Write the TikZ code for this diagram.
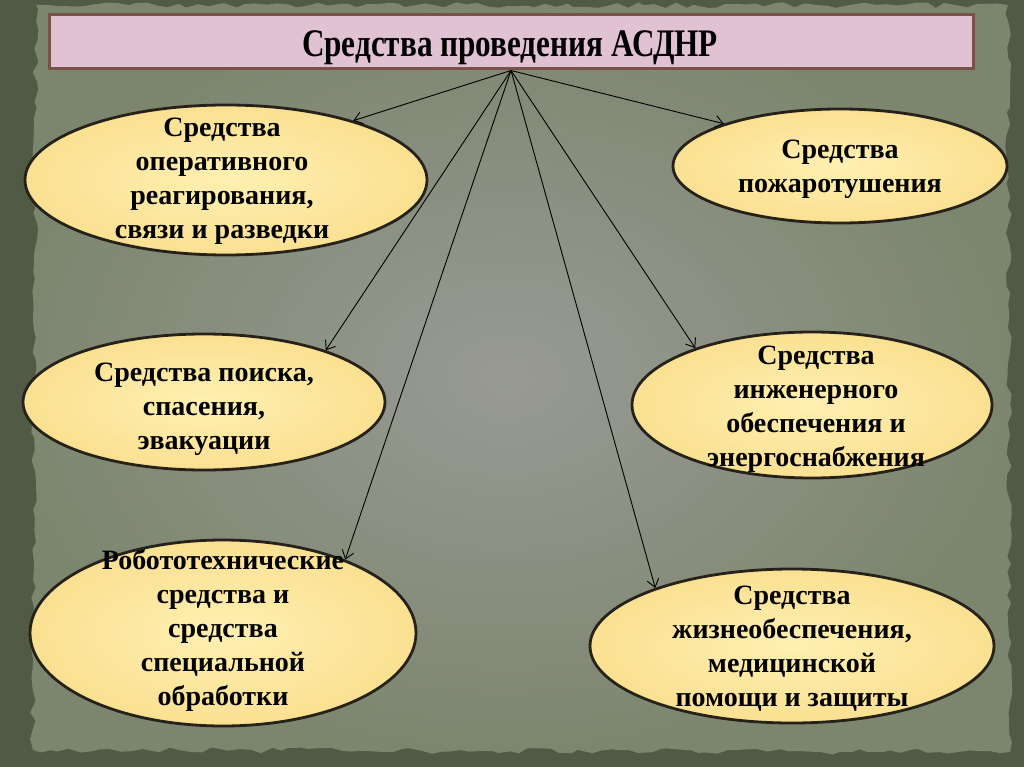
\documentclass[tikz,border=0pt]{standalone}
\usepackage{fontspec}
\setmainfont{Liberation Serif}
\usepackage{graphicx}
\usetikzlibrary{arrows.meta}
\usetikzlibrary{shapes.geometric}
\usetikzlibrary{decorations.pathmorphing}

\definecolor{bgdark}{RGB}{80,90,68}
\definecolor{panelin}{RGB}{152,154,148}
\definecolor{panelout}{RGB}{124,134,110}
\definecolor{titlepink}{RGB}{224,194,210}
\definecolor{titleedge}{RGB}{120,82,70}
\definecolor{ovalin}{RGB}{255,240,178}
\definecolor{ovalout}{RGB}{250,224,145}
\definecolor{ovaledge}{RGB}{38,34,26}

\tikzset{
  oval/.style={ellipse, shade, inner color=ovalin, outer color=ovalout, draw=ovaledge, line width=2.8pt, inner sep=0pt},
  ovaltext/.style={align=center, font=\fontsize{28}{34}\selectfont\bfseries},
  link/.style={-{Straight Barb[length=8pt,width=12pt]}, line width=0.9pt},
}

\begin{document}
\begin{tikzpicture}[x=1pt,y=-1pt]
\useasboundingbox (0,0) rectangle (1024,767);
\fill[bgdark] (0,0) rectangle (1024,767);
\pgfmathsetseed{11}
\shade[inner color=panelin, outer color=panelout] decorate[decoration={random steps,segment length=10pt,amplitude=3pt}] {(36,5) -- (1008,5) -- (1010,752) -- (33,750) -- cycle};

% title
\node[draw=titleedge, line width=3pt, fill=titlepink, minimum width=924pt, minimum height=54pt, inner sep=0pt] (title) at (511,42) {};
\node[font=\fontsize{39}{41}\selectfont\bfseries] (head) at (510,48) {\scalebox{0.8}[1]{Средства проведения АСДНР}};
\coordinate (hub) at (title.south);

% left column
\node[oval, minimum width=402pt, minimum height=150pt] (opr) at (226,180) {};
\node[ovaltext] (opr-t) at (222,181) {Средства\\оперативного\\реагирования,\\связи и разведки};

\node[oval, minimum width=362pt, minimum height=136pt] (rescue) at (204,402) {};
\node[ovaltext] (rescue-t) at (204,409) {Средства поиска,\\спасения,\\эвакуации};

\node[oval, minimum width=386pt, minimum height=186pt] (robot) at (223,633) {};
\node[ovaltext] (robot-t) at (223,630) {Робототехнические\\средства и\\средства\\специальной\\обработки};

% right column
\node[oval, minimum width=334pt, minimum height=114pt] (fire) at (840,166) {};
\node[ovaltext] (fire-t) at (840,169) {Средства\\пожаротушения};

\node[oval, minimum width=360pt, minimum height=146pt] (eng) at (812,405) {};
\node[ovaltext] (eng-t) at (816,409) {Средства\\инженерного\\обеспечения и\\энергоснабжения};

\node[oval, minimum width=404pt, minimum height=154pt] (life) at (792,646) {};
\node[ovaltext] (life-t) at (792,649) {Средства\\жизнеобеспечения,\\медицинской\\помощи и защиты};

\draw[link] (hub) -- (opr.25);
\draw[link] (hub) -- (fire.160);
\draw[link] (hub) -- (rescue.23);
\draw[link] (hub) -- (eng.154);
\draw[link] (hub) -- (robot.31);
\draw[link] (hub) -- (life.157);

\end{tikzpicture}
\end{document}
